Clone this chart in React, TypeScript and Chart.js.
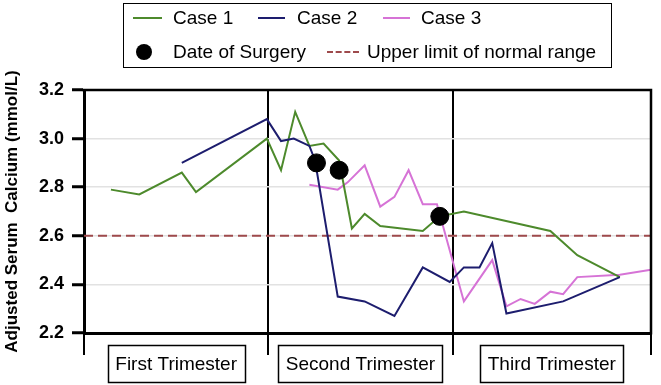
import React, { useEffect, useRef } from "react";
import { Chart, registerables } from "chart.js";

Chart.register(...registerables);

const FONT = "'Liberation Sans', Arial, Helvetica, sans-serif";

// Gestational week (x) and adjusted serum calcium (y)
const case1Weeks = [1.9, 3.9, 6.9, 7.9, 12.9, 13.9, 14.9, 15.9, 16.9, 18.0, 18.9, 19.8, 20.9, 23.9, 25.1, 26.8, 32.9, 34.8, 37.8];
const case1Values = [2.79, 2.77, 2.86, 2.78, 3.0, 2.87, 3.11, 2.97, 2.98, 2.91, 2.63, 2.69, 2.64, 2.62, 2.68, 2.7, 2.62, 2.52, 2.43];

const case2Weeks = [6.9, 12.9, 13.9, 14.8, 15.9, 16.3, 17.9, 19.8, 21.9, 23.9, 25.8, 26.8, 27.9, 28.8, 29.8, 33.8, 37.8];
const case2Values = [2.9, 3.08, 2.99, 3.0, 2.97, 2.91, 2.35, 2.33, 2.27, 2.47, 2.41, 2.47, 2.47, 2.57, 2.28, 2.33, 2.43];

const case3Weeks = [15.9, 17.9, 18.6, 19.8, 20.9, 21.9, 22.9, 23.9, 24.9, 26.8, 28.8, 29.8, 30.8, 31.8, 32.9, 33.8, 34.8, 37.8, 40];
const case3Values = [2.81, 2.79, 2.82, 2.89, 2.72, 2.76, 2.87, 2.73, 2.73, 2.33, 2.5, 2.31, 2.34, 2.32, 2.37, 2.36, 2.43, 2.44, 2.46];

const surgeryWeeks = [16.4, 18.0, 25.1];
const surgeryValues = [2.9, 2.87, 2.68];

const upperLimitWeeks = [0, 40];
const upperLimitValues = [2.6, 2.6];

const trimesterBounds = [0, 13, 26, 40];
const trimesterLabels = ["First Trimester", "Second Trimester", "Third Trimester"];

const yTickValues = [2.2, 2.4, 2.6, 2.8, 3.0, 3.2];
const yTickLabels = ["2.2", "2.4", "2.6", "2.8", "3.0", "3.2"];

const seriesNames = ["Case 1", "Case 2", "Case 3", "Date of Surgery", "Upper limit of normal range"];

const GREEN = "#4d8a2c";
const NAVY = "#1d1d6e";
const PINK = "#d673d6";
const RED = "#9e4a4c";

const pts = (xs: number[], ys: number[]) => xs.map((x, i) => ({ x, y: ys[i] }));

const framePlugin = {
  id: "frameAndTrimesters",
  afterDraw(chart: any) {
    const { ctx, chartArea } = chart;
    const { left, right, top, bottom } = chartArea;
    ctx.save();
    ctx.strokeStyle = "#000";
    ctx.lineWidth = 2.5;
    ctx.beginPath();
    ctx.moveTo(left - 1.5, top);
    ctx.lineTo(right, top);
    ctx.lineTo(right, bottom + 1.5);
    ctx.stroke();

    const xs = chart.scales.x;
    ctx.font = `19px ${FONT}`;
    ctx.textAlign = "center";
    ctx.textBaseline = "middle";
    ctx.fillStyle = "#000";
    ctx.lineWidth = 1.5;
    for (let i = 0; i < trimesterLabels.length; i++) {
      const a = xs.getPixelForValue(trimesterBounds[i]);
      const b = xs.getPixelForValue(trimesterBounds[i + 1]);
      const cx = (a + b) / 2;
      const w = ctx.measureText(trimesterLabels[i]).width + 15;
      const boxTop = bottom + 12;
      const h = 37;
      ctx.strokeRect(Math.round(cx - w / 2) + 0.5, boxTop + 0.5, Math.round(w), h);
      ctx.fillText(trimesterLabels[i], cx, boxTop + h / 2 + 1);
    }
    ctx.restore();
  },
};

export default function App() {
  const ref = useRef<HTMLCanvasElement>(null);

  useEffect(() => {
    if (!ref.current) return;
    const chart = new Chart(ref.current, {
      type: "line",
      data: {
        datasets: [
          {
            label: seriesNames[3],
            data: pts(surgeryWeeks, surgeryValues),
            showLine: false,
            pointRadius: 9,
            pointBackgroundColor: "#000",
            pointBorderColor: "#000",
            borderColor: "#000",
            backgroundColor: "#000",
            order: 0,
          },
          {
            label: seriesNames[0],
            data: pts(case1Weeks, case1Values),
            borderColor: GREEN,
            borderWidth: 2,
            pointRadius: 0,
            tension: 0,
            order: 2,
          },
          {
            label: seriesNames[1],
            data: pts(case2Weeks, case2Values),
            borderColor: NAVY,
            borderWidth: 2,
            pointRadius: 0,
            tension: 0,
            order: 1,
          },
          {
            label: seriesNames[2],
            data: pts(case3Weeks, case3Values),
            borderColor: PINK,
            borderWidth: 2,
            pointRadius: 0,
            tension: 0,
            order: 3,
          },
          {
            label: seriesNames[4],
            data: pts(upperLimitWeeks, upperLimitValues),
            borderColor: RED,
            borderWidth: 2,
            borderDash: [9, 5],
            pointRadius: 0,
            order: 5,
          },
        ],
      },
      options: {
        animation: false,
        responsive: false,
        maintainAspectRatio: false,
        layout: { padding: { top: 90, right: 4, left: 0, bottom: 0 } },
        plugins: { legend: { display: false }, tooltip: { enabled: false } },
        scales: {
          x: {
            type: "linear",
            min: 0,
            max: 40,
            afterBuildTicks: (s: any) => {
              s.ticks = trimesterBounds.map((v) => ({ value: v }));
            },
            afterFit: (s: any) => {
              s.height = 52;
            },
            ticks: { display: false },
            grid: {
              color: "#000",
              lineWidth: 2,
              drawTicks: true,
              tickLength: 22,
              tickWidth: 2,
              tickColor: "#000",
            },
            border: { color: "#000", width: 3 },
          },
          y: {
            type: "linear",
            min: 2.2,
            max: 3.2,
            afterBuildTicks: (s: any) => {
              s.ticks = yTickValues.map((v) => ({ value: v }));
            },
            afterFit: (s: any) => {
              s.width = 84;
            },
            ticks: {
              callback: (v: any) => {
                const i = yTickValues.findIndex((t) => Math.abs(t - Number(v)) < 1e-6);
                return i >= 0 ? yTickLabels[i] : "";
              },
              font: { family: FONT, size: 18, weight: "bold" },
              color: "#000",
              padding: 8,
            },
            grid: {
              color: "#e2e2e2",
              lineWidth: 1.5,
              tickLength: 12,
              tickWidth: 3,
              tickColor: "#000",
            },
            border: { color: "#000", width: 3 },
            title: {
              display: true,
              text: "Adjusted Serum  Calcium (mmol/L)",
              font: { family: FONT, size: 17, weight: "bold" },
              color: "#000",
              padding: { top: 2, bottom: 0 },
            },
          },
        },
      },
      plugins: [framePlugin],
    } as any);
    return () => chart.destroy();
  }, []);

  const text = (label: string, left: number, cy: number) => (
    <div
      style={{
        position: "absolute",
        left,
        top: cy - 11,
        height: 22,
        lineHeight: "22px",
        fontSize: 19,
        fontFamily: FONT,
        color: "#000",
        whiteSpace: "nowrap",
      }}
    >
      {label}
    </div>
  );
  const line = (color: string, left: number, width: number, cy: number, dashed = false) => (
    <div
      style={{
        position: "absolute",
        left,
        top: cy - 1,
        width,
        height: 0,
        borderTop: `2px ${dashed ? "dashed" : "solid"} ${color}`,
      }}
    />
  );

  return (
    <div style={{ position: "fixed", left: 0, top: 0, width: 661, height: 385, background: "#fff" }}>
      <canvas ref={ref} width={661} height={385} style={{ position: "absolute", left: 0, top: 0 }} />
      <div
        style={{
          position: "absolute",
          left: 123,
          top: 3,
          width: 487,
          height: 63,
          border: "1.5px solid #000",
        }}
      />
      {line(GREEN, 133, 29, 18)}
      {text(seriesNames[0], 173, 18)}
      {line(NAVY, 258, 27, 18)}
      {text(seriesNames[1], 297, 18)}
      {line(PINK, 383, 27, 18)}
      {text(seriesNames[2], 421, 18)}
      <div
        style={{
          position: "absolute",
          left: 136,
          top: 44,
          width: 16,
          height: 16,
          borderRadius: "50%",
          background: "#000",
        }}
      />
      {text(seriesNames[3], 173, 52)}
      {line(RED, 327, 32, 52, true)}
      {text(seriesNames[4], 367, 52)}
    </div>
  );
}
